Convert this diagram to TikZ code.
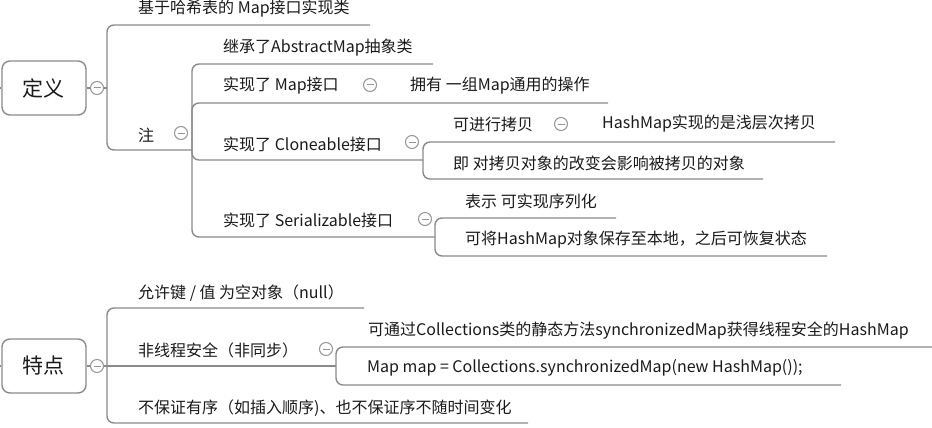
\documentclass[tikz,border=0pt]{standalone}
\usepackage{fontspec}
\setmainfont{Noto Sans CJK SC}
\definecolor{linegray}{RGB}{138,138,138}
\definecolor{circgray}{RGB}{150,150,150}
\definecolor{txtcol}{RGB}{26,26,26}
\begin{document}
\begin{tikzpicture}[x=1pt,y=-1pt,
  conn/.style={draw=linegray, line width=1.4pt, rounded corners=7pt},
  txt/.style={anchor=west, inner sep=0pt, font=\fontsize{16}{19}\selectfont, text=txtcol},
  topic/.style={draw=linegray, line width=1.4pt, rounded corners=8pt, minimum width=84pt, minimum height=54pt, inner sep=0pt, font=\fontsize{21}{24}\selectfont, text=txtcol},
  fold/.style={circle, draw=circgray, fill=white, line width=1pt, minimum size=13pt, inner sep=0pt,
    path picture={\draw[circgray, line width=1pt] ([xshift=-3.5pt]path picture bounding box.center) -- ([xshift=3.5pt]path picture bounding box.center);}}
]
\useasboundingbox (0,0) rectangle (932,428);

% ---------- section 1: 定义 ----------
\node[topic] (d) at (44,88) {定义};
\coordinate (ds) at (0,88);
\coordinate (j1) at (107,88);
\coordinate (j2) at (192,150);
\coordinate (e1) at (370,25);
\coordinate (e3) at (433,64);
\coordinate (e4) at (395,103);
\coordinate (e41) at (608,103);
\coordinate (j5) at (423,160);
\coordinate (e51) at (585,142);
\coordinate (e511) at (835,142);
\coordinate (e52) at (763,179);
\coordinate (j6) at (435,237);
\coordinate (e61) at (616,218);
\coordinate (e62) at (827,256);

\node[txt] (n1) at (138,9) {基于哈希表的 Map接口实现类};
\node[txt] (n2) at (138,135) {注};
\node[txt] (n3) at (223,48) {继承了AbstractMap抽象类};
\node[txt] (n4) at (223,86) {实现了 Map接口};
\node[txt] (n41) at (410,86) {拥有 一组Map通用的操作};
\node[txt] (n5) at (223,144) {实现了 Cloneable接口};
\node[txt] (n51) at (453,124) {可进行拷贝};
\node[txt] (n511) at (602,124) {HashMap实现的是浅层次拷贝};
\node[txt] (n52) at (453,163) {即 对拷贝对象的改变会影响被拷贝的对象};
\node[txt] (n6) at (223,220) {实现了 Serializable接口};
\node[txt] (n61) at (465,201) {表示 可实现序列化};
\node[txt] (n62) at (465,240) {可将HashMap对象保存至本地，之后可恢复状态};

\draw[conn] (ds) -- (d.west);
\draw[conn] (d.east) -- (j1);
\draw[conn] (j1) |- (e1);
\draw[conn] (j1) |- (j2);
\draw[conn] (j2) |- (e3);
\draw[conn] (j2) |- (e4) -- (e41);
\draw[conn] (j2) |- (j5);
\draw[conn] (j5) |- (e51) -- (e511);
\draw[conn] (j5) |- (e52);
\draw[conn] (j2) |- (j6);
\draw[conn] (j6) |- (e61);
\draw[conn] (j6) |- (e62);

\node[fold] (f0) at (97,88) {};
\node[fold] (f2) at (181,133) {};
\node[fold] (f4) at (370,85) {};
\node[fold] (f5) at (412,142) {};
\node[fold] (f51) at (561,124) {};
\node[fold] (f6) at (425,219) {};

% ---------- section 2: 特点 ----------
\node[topic] (t) at (44,366) {特点};
\coordinate (ts) at (0,366);
\coordinate (k1) at (107,366);
\coordinate (g1) at (364,308);
\coordinate (k2) at (336,366);
\coordinate (g21) at (932,347);
\coordinate (g22) at (841,385);
\coordinate (g3) at (528,423);

\node[txt] (m1) at (138,293) {允许键 / 值 为空对象（null）};
\node[txt] (m2) at (138,350) {非线程安全（非同步）};
\node[txt] (m21) at (368,331) {可通过Collections类的静态方法synchronizedMap获得线程安全的HashMap};
\node[txt] (m22) at (367,368) {Map map = Collections.synchronizedMap(new HashMap());};
\node[txt] (m3) at (138,408) {不保证有序（如插入顺序)、也不保证序不随时间变化};

\draw[conn] (ts) -- (t.west);
\draw[conn] (t.east) -- (k1);
\draw[conn] (k1) |- (g1);
\draw[conn] (k1) -- (k2);
\draw[conn] (k2) |- (g21);
\draw[conn] (k2) |- (g22);
\draw[conn] (k1) |- (g3);

\node[fold] (g0) at (97,366) {};
\node[fold] (gf2) at (326,349) {};
\end{tikzpicture}
\end{document}
